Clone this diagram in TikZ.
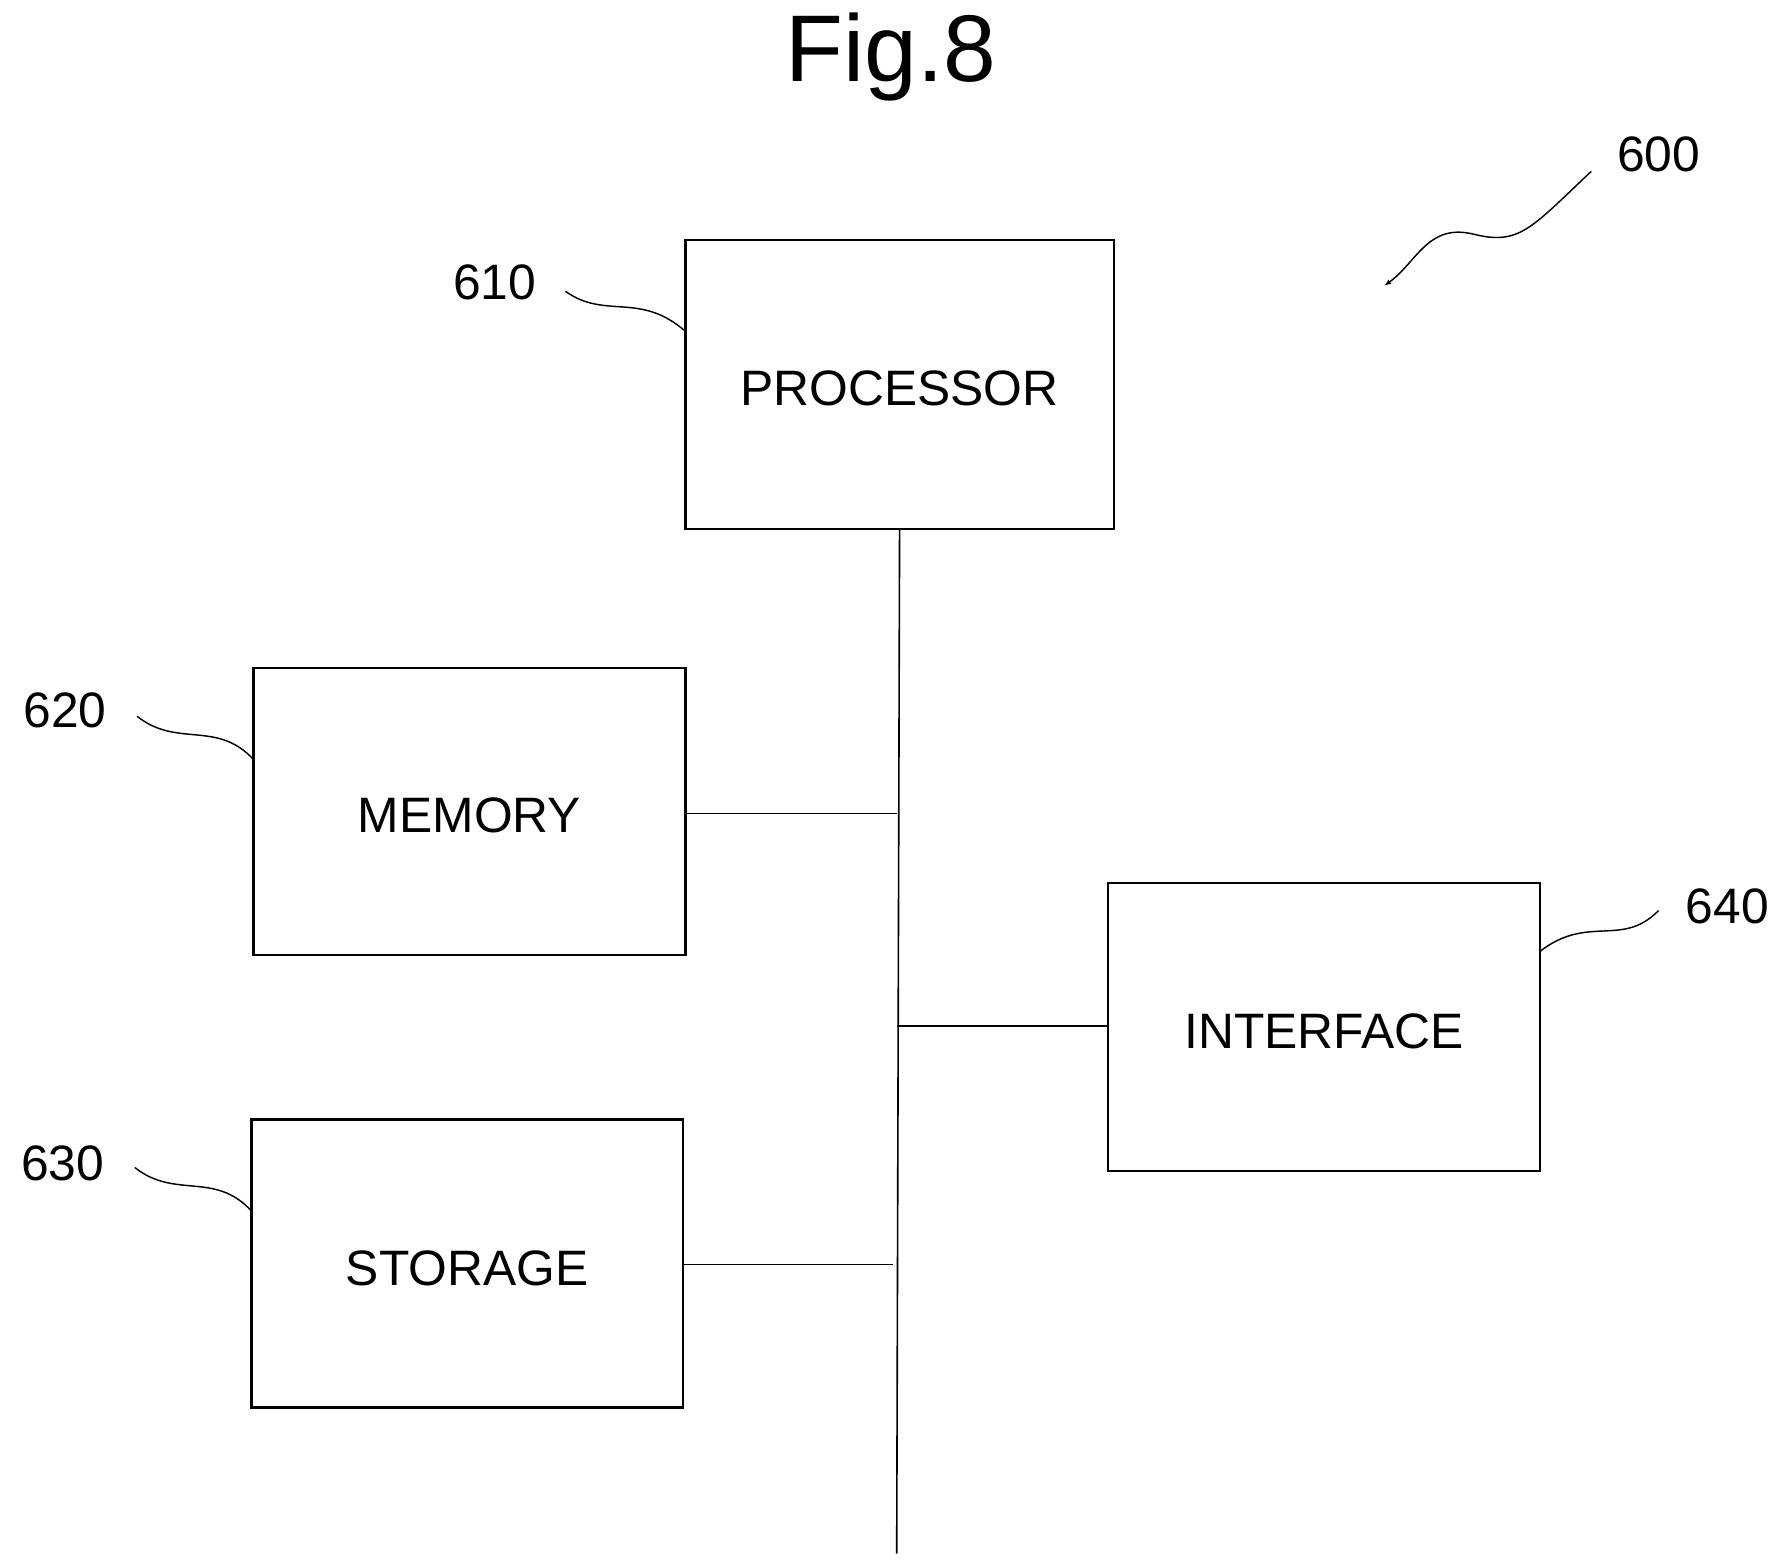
\documentclass[tikz,border=0pt]{standalone}
\usepackage{fontspec}
\setmainfont{Liberation Sans}
\begin{document}
\begin{tikzpicture}[x=0.05cm,y=-0.05cm,
  box/.style={draw,line width=3pt},
  lbl/.style={font=\fontsize{62}{70}\selectfont},
  num/.style={font=\fontsize{62}{70}\selectfont},
  wire/.style={line width=2pt},
  lead/.style={line width=1.8pt}]
\useasboundingbox (0,0) rectangle (1560,1370);
\node[font=\fontsize{118}{130}\selectfont] (fig) at (780,50) {Fig.8};
\node[box,minimum width=18.75cm,minimum height=12.65cm] (p) at (787.5,336.5) {};
\node[lbl] (pt) at (787.5,340) {PROCESSOR};
\node[box,minimum width=18.9cm,minimum height=12.55cm] (m) at (411,710.5) {};
\node[lbl] (mt) at (411,714) {MEMORY};
\node[box,minimum width=18.9cm,minimum height=12.6cm] (s) at (409,1106) {};
\node[lbl] (st) at (409,1110) {STORAGE};
\node[box,minimum width=18.9cm,minimum height=12.6cm] (i) at (1159,899) {};
\node[lbl] (it) at (1159,903) {INTERFACE};
\coordinate (b0) at (p.south);
\coordinate (b1) at (785,1360);
\draw[wire] (b0) -- (b1);
\coordinate (jm) at (785,712);
\coordinate (ji) at (785,898);
\coordinate (js) at (782,1107);
\draw[wire] (m.east |- jm) -- (jm);
\draw[wire] (ji) -- (i.west |- ji);
\draw[wire] (s.east |- js) -- (js);
\node[num] (n610) at (433,247) {610};
\node[num] (n620) at (57,622) {620};
\node[num] (n630) at (55,1018) {630};
\node[num] (n640) at (1512,793) {640};
\node[num] (n600) at (1452,135) {600};
\coordinate (e610) at (600,290);
\coordinate (e620) at (222,665);
\coordinate (e630) at (220,1060);
\coordinate (e640) at (1348,833);
\coordinate (a600) at (1212,250);
\draw[lead] (495,255) .. controls (530,280) and (560,255) .. (e610);
\draw[lead] (120,627) .. controls (155,655) and (190,630) .. (e620);
\draw[lead] (118,1022) .. controls (153,1050) and (188,1025) .. (e630);
\draw[lead] (1452,797) .. controls (1420,830) and (1390,800) .. (e640);
\draw[lead,-latex] (1393,150) .. controls (1340,200) and (1330,215) .. (1290,205) .. controls (1250,195) and (1240,230) .. (a600);
\end{tikzpicture}
\end{document}
